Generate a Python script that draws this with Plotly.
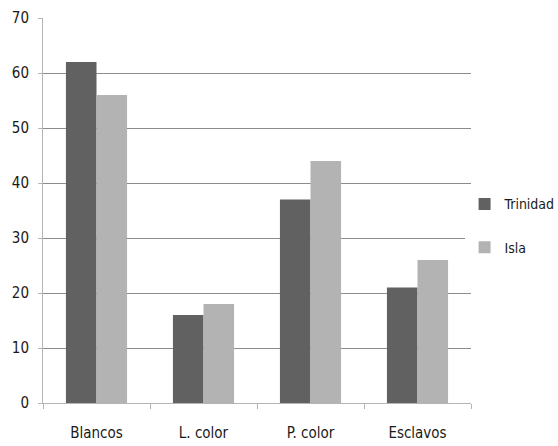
import plotly.graph_objects as go

categorias = ["Blancos", "L. color", "P. color", "Esclavos"]
trinidad = [62, 16, 37, 21]
isla = [56, 18, 44, 26]
y_ticks = [0, 10, 20, 30, 40, 50, 60, 70]

FONT = "DejaVu Sans Condensed, Liberation Sans Narrow, sans-serif"

fig = go.Figure()
fig.add_trace(go.Bar(name="Trinidad", x=categorias, y=trinidad,
                     marker=dict(color="#616161", line=dict(width=0)),
                     legendgroup="a"))
fig.add_trace(go.Bar(name="Isla", x=categorias, y=isla,
                     marker=dict(color="#b3b3b3", line=dict(width=0)),
                     legendgroup="b"))

fig.update_layout(
    width=558, height=446,
    margin=dict(l=43, r=87, t=18, b=43, autoexpand=False),
    paper_bgcolor="white", plot_bgcolor="white",
    barmode="group", bargap=0.4286, bargroupgap=0,
    font=dict(family=FONT, size=15, color="#1a1a1a"),
    showlegend=True,
    legend=dict(x=0.985, xanchor="left", y=0.46, yanchor="middle",
                tracegroupgap=22, itemwidth=30,
                font=dict(family=FONT, size=14, color="#1a1a1a")),
    xaxis=dict(
        showline=True, linecolor="#b5b5b5", linewidth=1,
        ticks="outside", tickson="boundaries", ticklen=5, tickcolor="#b5b5b5",
        showgrid=False, tickfont=dict(size=15), ticklabelstandoff=16,
    ),
    yaxis=dict(
        range=[0, 70], tickvals=y_ticks,
        showline=True, linecolor="#b5b5b5", linewidth=1,
        ticks="outside", ticklen=4, tickcolor="#b5b5b5",
        showgrid=True, gridcolor="#8c8c8c", gridwidth=1,
        zeroline=False, tickfont=dict(size=15), ticklabelstandoff=6,
    ),
)

fig.write_html("out.html")
